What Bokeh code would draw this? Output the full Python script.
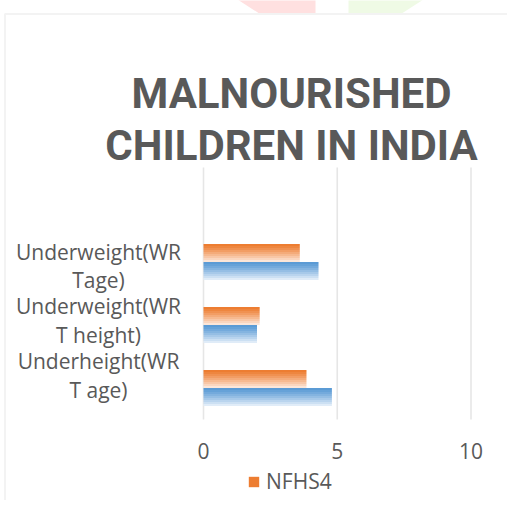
from bokeh.plotting import figure
from bokeh.models import (Range1d, FixedTicker, Label, Legend, LegendItem, BoxAnnotation,
                          PolyAnnotation)
from bokeh.embed import file_html
from bokeh.resources import INLINE

# ---- data ----
categories = ["Underheight(WRT age)", "Underweight(WRT height)", "Underweight(WRTage)"]
label_lines = [["Underheight(WR", "T age)"], ["Underweight(WR", "T height)"], ["Underweight(WR", "Tage)"]]
nfhs4 = [3.85, 2.1, 3.6]
nfhs3 = [4.8, 2.0, 4.3]
x_ticks = [0, 5, 10]
title_lines = ["MALNOURISHED", "CHILDREN IN INDIA"]

TEXT = "#595959"
W, H = 507, 500
AXIS_Y = 419           # pixel row of the category axis (bottom of the bar area)
PX_X, PX_Y = 26.75, 63.0
X0 = 203               # pixel column of value 0
ncat_slots = 4         # 3 categories + one empty slot on top

pos = [i + 0.5 for i in range(len(categories))]

def dx(px):
    return (px - X0) / PX_X

def dy(py):
    return (AXIS_Y - py) / PX_Y

p = figure(width=W, height=H,
           x_range=Range1d(dx(0), dx(W)),
           y_range=Range1d(dy(H), dy(0)),
           output_backend="svg", toolbar_location=None,
           min_border=0)
p.outline_line_color = None
p.background_fill_color = "white"
p.border_fill_color = "white"
p.yaxis.visible = False
p.ygrid.visible = False
p.xgrid.visible = False
p.xaxis.fixed_location = 0
p.xaxis.ticker = FixedTicker(ticks=x_ticks)
p.xaxis.axis_line_color = None
p.xaxis.major_tick_line_color = None
p.xaxis.minor_tick_line_color = None
p.xaxis.major_label_standoff = 17
p.xaxis.major_label_text_font = "Open Sans"
p.xaxis.major_label_text_font_size = "21px"
p.xaxis.major_label_text_color = TEXT

# vertical gridlines over the category area only
p.segment(x0=x_ticks, x1=x_ticks, y0=[0] * len(x_ticks), y1=[ncat_slots] * len(x_ticks),
          line_color="#E6E6E6", line_width=1.6)

# gradient bars built from thin slices
def mix(c1, c2, t):
    a = [int(c1[i:i + 2], 16) for i in (1, 3, 5)]
    b = [int(c2[i:i + 2], 16) for i in (1, 3, 5)]
    return "#%02x%02x%02x" % tuple(round(a[k] + (b[k] - a[k]) * t) for k in range(3))

BAR_H = 18 / PX_Y
N = 9
sh = BAR_H / N
orange_r = []
for i in range(N):
    col = mix("#ED7D31", "#FCE6D8", (i / (N - 1)) ** 1.2)
    ys = [v + BAR_H - (i + 0.5) * sh for v in pos]
    r = p.hbar(y=ys, right=nfhs4, left=0, height=sh * 1.04,
               fill_color=col, line_color=None)
    orange_r.append(r)
for i in range(N):
    col = mix("#5B9BD5", "#E0ECF8", (i / (N - 1)) ** 1.2)
    ys = [v - (i + 0.5) * sh for v in pos]
    p.hbar(y=ys, right=nfhs3, left=0, height=sh * 1.04,
           fill_color=col, line_color=None)

# category labels (two lines each)
offs = [(0.429, -0.032), (0.302, -0.159), (0.159, -0.286)]
for k, lines in enumerate(label_lines):
    for j, t in enumerate(lines):
        p.add_layout(Label(x=dx(98), y=pos[k] + offs[k][j], text=t, text_align="center",
                           text_baseline="alphabetic", text_font="Open Sans",
                           text_font_size="21px", text_color=TEXT))

# title
for t, yy in zip(title_lines, [5.175, 4.349]):
    p.add_layout(Label(x=dx(291), y=yy, text=t, text_align="center", text_baseline="alphabetic",
                       text_font="Roboto", text_font_style="bold",
                       text_font_size="42px", text_color=TEXT))

# chart border and page decorations
p.add_layout(BoxAnnotation(left=dx(4.5), right=dx(560), top=dy(13.5), bottom=dy(560),
                           fill_color=None, line_color="#D6D6D6", line_width=2))
p.add_layout(PolyAnnotation(xs=[dx(237), dx(315), dx(315), dx(258)], ys=[dy(-1), dy(-1), dy(12.5), dy(12.5)],
                            fill_color="#FFE0E0", fill_alpha=1, line_color=None))
p.add_layout(PolyAnnotation(xs=[dx(348), dx(423), dx(402), dx(348)], ys=[dy(-1), dy(-1), dy(12.5), dy(12.5)],
                            fill_color="#EFFAE5", fill_alpha=1, line_color=None))

legend = Legend(items=[LegendItem(label="NFHS4", renderers=[orange_r[0]])], location=(247, 5),
                orientation="horizontal", padding=0, margin=0, spacing=0,
                glyph_width=13, glyph_height=13, label_standoff=6,
                label_text_font="Open Sans", label_text_font_size="21px",
                label_text_color=TEXT, border_line_color=None, background_fill_alpha=0)
p.add_layout(legend, "center")

open("out.html", "w").write(file_html(p, INLINE))
